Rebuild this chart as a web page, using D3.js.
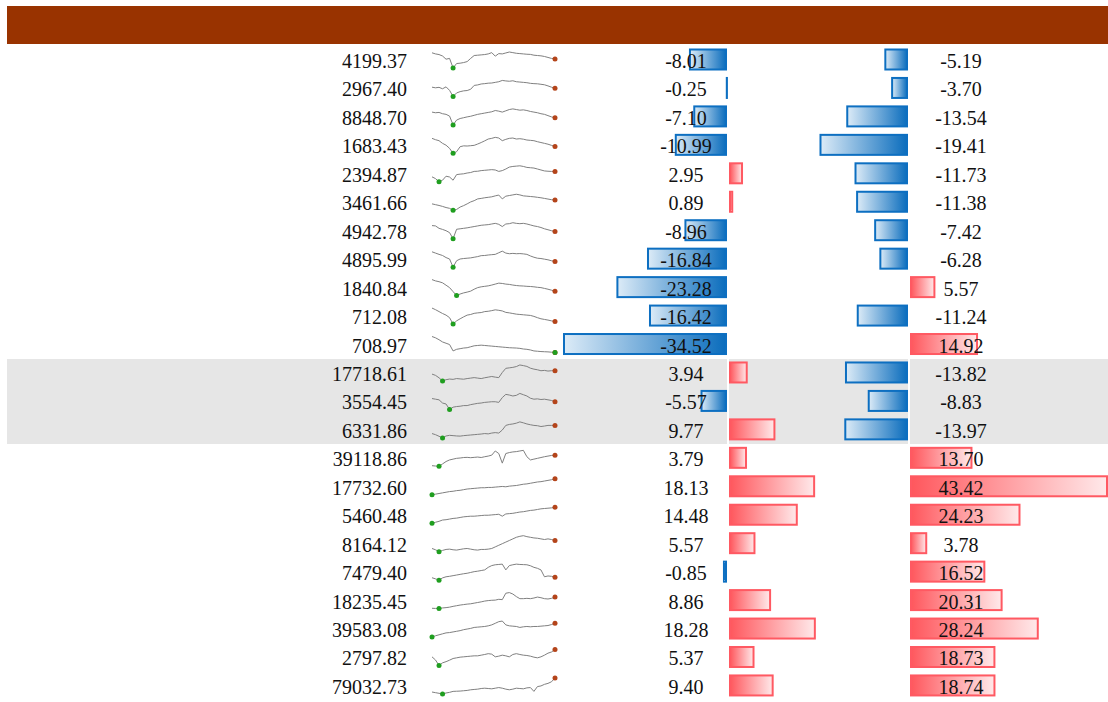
<!DOCTYPE html>
<html>
<head>
<meta charset="utf-8">
<script src="https://cdn.jsdelivr.net/npm/d3@7"></script>
<style>
body { margin: 0; background: #fff; overflow: hidden; }
text { font-family: "Liberation Serif", "Times New Roman", serif; font-size: 20px; fill: #111; }
</style>
</head>
<body>
<script>
// table rows - last price, two % change columns, and a trend line each
var prices = ["4199.37", "2967.40", "8848.70", "1683.43", "2394.87", "3461.66", "4942.78", "4895.99",
    "1840.84", "712.08", "708.97", "17718.61", "3554.45", "6331.86", "39118.86", "17732.60",
    "5460.48", "8164.12", "7479.40", "18235.45", "39583.08", "2797.82", "79032.73"];

var change1 = [-8.01, -0.25, -7.10, -10.99, 2.95, 0.89, -8.96, -16.84, -23.28, -16.42, -34.52,
    3.94, -5.57, 9.77, 3.79, 18.13, 14.48, 5.57, -0.85, 8.86, 18.28, 5.37, 9.40];

var change2 = [-5.19, -3.70, -13.54, -19.41, -11.73, -11.38, -7.42, -6.28, 5.57, -11.24, 14.92,
    -13.82, -8.83, -13.97, 13.70, 43.42, 24.23, 3.78, 16.52, 20.31, 28.24, 18.73, 18.74];

var trend = [
    [95,88,84,75,55,60,0,28,30,34,40,60,78,80,82,84,88,96,74,90,88,94,100,96,92,90,88,86,85,80,78,76,72,66,60,57],
    [58,54,57,48,60,38,0,22,30,35,37,45,69,72,78,80,83,84,88,92,100,97,95,98,92,90,88,86,82,80,79,76,73,66,58,52],
    [80,76,78,70,66,55,0,30,40,45,50,54,60,66,70,74,78,82,90,86,80,88,96,100,96,92,94,90,84,80,76,70,66,58,50,44],
    [90,82,76,60,49,30,0,10,40,45,44,46,48,56,65,75,86,90,96,92,76,84,90,92,86,88,85,80,78,76,70,65,60,55,48,41],
    [31,20,0,10,35,30,10,45,48,50,55,58,65,66,70,72,74,76,74,65,70,80,92,96,98,100,96,90,88,86,80,74,68,66,65,65],
    [40,35,30,24,17,12,0,5,20,29,40,52,60,71,74,78,81,84,90,95,71,88,92,96,100,96,90,88,86,84,81,78,74,70,66,64],
    [82,80,65,58,50,38,0,59,62,65,68,72,76,80,84,86,88,92,96,90,76,92,94,100,96,94,96,92,86,80,76,70,62,56,50,45],
    [96,88,80,73,60,51,0,40,51,54,56,58,62,66,72,73,76,78,80,90,100,88,84,86,84,85,83,80,70,62,56,54,50,46,40,36],
    [100,92,87,80,65,50,25,0,10,17,22,28,40,50,55,58,61,66,72,78,76,72,70,66,63,61,60,58,57,55,52,50,45,40,34,28],
    [100,90,78,66,56,40,0,20,33,45,56,60,67,70,72,78,80,84,89,86,82,73,70,66,62,60,58,56,54,48,40,33,29,25,20,16],
    [100,92,80,66,58,50,10,20,24,28,30,36,42,44,46,44,42,40,38,36,34,32,30,29,28,26,22,20,16,10,8,6,5,4,2,0],
    [43,35,20,0,8,12,10,15,13,11,15,18,21,18,15,20,24,28,24,21,53,79,82,85,90,100,96,91,80,74,70,64,66,62,64,64],
    [68,64,60,40,34,0,14,18,20,24,24,30,34,38,40,44,46,48,48,44,74,94,90,84,88,100,92,84,70,64,66,62,64,60,56,48],
    [27,20,10,0,12,16,14,12,11,14,16,18,20,22,24,27,25,30,33,30,49,78,84,87,92,100,94,87,82,78,76,71,74,78,78,78],
    [4,2,0,15,30,40,45,50,52,55,56,54,56,58,55,60,64,70,96,80,20,80,86,90,92,96,100,60,40,45,50,55,60,64,68,70],
    [0,4,8,12,16,20,22,26,28,32,36,38,40,42,44,44,46,46,48,50,52,50,54,56,58,62,66,68,72,76,80,82,86,90,94,100],
    [0,6,12,20,22,26,30,32,36,40,42,44,44,46,48,50,50,52,54,56,44,58,60,62,66,70,72,76,80,82,86,90,92,94,96,100],
    [20,12,0,8,14,16,12,10,14,18,20,16,12,10,14,14,16,20,30,40,50,60,70,80,90,96,100,94,90,86,84,80,76,80,76,70],
    [15,8,0,14,21,24,28,32,36,40,43,48,53,56,60,64,80,91,96,98,100,64,91,96,100,98,97,96,90,80,74,64,21,26,24,18],
    [2,1,0,4,6,9,14,18,22,25,28,30,34,38,42,47,50,52,53,58,56,96,100,91,75,62,62,64,62,66,72,68,62,60,64,72],
    [0,8,14,20,26,28,32,36,40,46,50,54,60,62,64,66,70,76,86,96,100,76,70,68,66,60,64,66,64,66,66,68,70,72,78,86],
    [52,33,0,16,23,32,42,46,50,52,54,56,58,58,62,66,71,68,52,56,62,58,52,66,71,66,62,60,56,50,46,52,62,74,81,96],
    [12,8,4,0,6,10,16,17,18,20,22,26,28,30,34,36,34,32,36,40,36,30,26,30,36,34,32,38,40,16,46,50,60,66,76,100]
];

// rows 12-14 are shaded
var highlightFrom = 11, highlightTo = 14;

var size = { "width": 1108, "height": 702 };

var svg = d3.select("body").append("svg")
    .attr("width", size.width)
    .attr("height", size.height);

var defs = svg.append("defs");
var negGrad = defs.append("linearGradient").attr("id", "negGrad");
negGrad.append("stop").attr("offset", "0%").attr("stop-color", "#dcebf7");
negGrad.append("stop").attr("offset", "100%").attr("stop-color", "#0b6dbd");
var posGrad = defs.append("linearGradient").attr("id", "posGrad");
posGrad.append("stop").attr("offset", "0%").attr("stop-color", "#ff575d");
posGrad.append("stop").attr("offset", "100%").attr("stop-color", "#ffe9ea");

// header strip
svg.append("rect")
    .attr("x", 7).attr("y", 6)
    .attr("width", size.width - 7).attr("height", 38)
    .style("fill", "#993300");

var rowY = d3.scaleLinear().domain([0, prices.length]).range([46, 700.4]);

// grey band, split at the bar columns
var bandCells = [[7, 727], [729, 908], [910, size.width]];
bandCells.forEach(function(c) {
    svg.append("rect")
        .attr("x", c[0]).attr("y", Math.round(rowY(highlightFrom)))
        .attr("width", c[1] - c[0])
        .attr("height", Math.round(rowY(highlightTo)) - Math.round(rowY(highlightFrom)))
        .style("fill", "#e6e6e6");
});

// price column
svg.selectAll("text.price")
    .data(prices)
    .enter().append("text")
    .attr("class", "price")
    .attr("x", 407)
    .attr("y", function(d, i) { return rowY(i) + 22; })
    .attr("text-anchor", "end")
    .text(function(d) { return d; });

// sparklines
var sx = d3.scaleLinear().domain([0, trend[0].length - 1]).range([432, 555]);
trend.forEach(function(series, i) {
    var sy = d3.scaleLinear().domain(d3.extent(series)).range([rowY(i) + 22, rowY(i) + 6]);
    var line = d3.line()
        .x(function(d, j) { return sx(j); })
        .y(function(d) { return sy(d); });
    svg.append("path")
        .attr("d", line(series))
        .style("fill", "none")
        .style("stroke", "#808080")
        .style("stroke-width", 1);
    var mi = d3.minIndex(series);
    var last = series.length - 1;
    svg.append("circle")
        .attr("cx", sx(last)).attr("cy", sy(series[last])).attr("r", 2.5)
        .style("fill", "#b4441a");
    svg.append("circle")
        .attr("cx", sx(mi)).attr("cy", sy(series[mi])).attr("r", 2.5)
        .style("fill", "#1f9e1f");
});

// diverging bar columns
function barColumn(values, zero, halfWidth, textX) {
    var w = d3.scaleLinear()
        .domain([0, d3.max(values, function(v) { return Math.abs(v); })])
        .range([0, halfWidth]);
    svg.selectAll(null)
        .data(values)
        .enter().append("rect")
        .attr("x", function(d) { return d < 0 ? zero - w(-d) : zero + 2; })
        .attr("y", function(d, i) { return rowY(i) + 3.5; })
        .attr("width", function(d) { return Math.max(w(Math.abs(d)) - 2, 0.1); })
        .attr("height", 20)
        .style("fill", function(d) { return d < 0 ? "url(#negGrad)" : "url(#posGrad)"; })
        .style("stroke", function(d) { return d < 0 ? "#0d6fc1" : "#ff5962"; })
        .style("stroke-width", 2);
    svg.selectAll(null)
        .data(values)
        .enter().append("text")
        .attr("x", textX)
        .attr("y", function(d, i) { return rowY(i) + 22; })
        .attr("text-anchor", "middle")
        .text(function(d) { return d.toFixed(2); });
}

barColumn(change1, 728, 164, 686);
barColumn(change2, 909, 198, 961);
</script>
</body>
</html>
